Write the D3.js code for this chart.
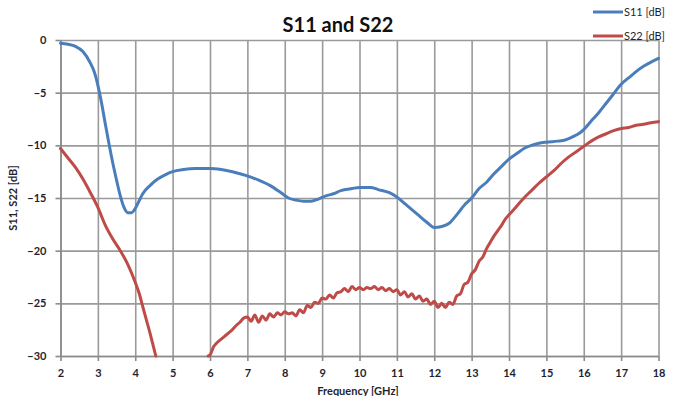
<!DOCTYPE html>
<html>
<head>
<meta charset="utf-8">
<script src="https://cdn.jsdelivr.net/npm/d3@7"></script>
<style>
  html, body { margin: 0; padding: 0; background: #fff; }
  svg { display: block; font-family: Lato, "Open Sans", sans-serif; }
</style>
</head>
<body>
<svg id="chart" width="674" height="396"></svg>
<script>
// ---- data ----
const title = "S11 and S22";
const xLabel = "Frequency [GHz]";
const yLabel = "S11, S22 [dB]";
const seriesNames = ["S11 [dB]", "S22 [dB]"];
const xTicks = [2,3,4,5,6,7,8,9,10,11,12,13,14,15,16,17,18];
const yTicks = [0,-5,-10,-15,-20,-25,-30];

const s11Freq = [2.0,2.2,2.4,2.6,2.8,2.9,3.0,3.1,3.2,3.3,3.4,3.5,3.6,3.7,3.8,3.9,4.0,4.1,4.2,4.4,4.6,4.8,5.0,5.3,5.6,6.0,6.3,6.6,7.0,7.3,7.6,7.9,8.1,8.3,8.5,8.7,8.9,9.1,9.3,9.5,9.8,10.0,10.3,10.5,10.8,11.0,11.2,11.4,11.6,11.8,12.0,12.2,12.4,12.6,12.8,13.0,13.2,13.4,13.6,13.8,14.0,14.2,14.4,14.6,14.8,15.0,15.3,15.5,15.7,15.9,16.0,16.2,16.4,16.6,16.8,17.0,17.2,17.4,17.6,17.8,18.0];
const s11Vals = [-0.3,-0.4,-0.6,-1.1,-2.2,-3.0,-4.3,-6.0,-8.0,-9.9,-11.7,-13.3,-14.8,-15.9,-16.4,-16.4,-16.0,-15.3,-14.6,-13.8,-13.2,-12.8,-12.5,-12.3,-12.2,-12.2,-12.3,-12.5,-12.9,-13.3,-13.8,-14.5,-15.0,-15.2,-15.3,-15.3,-15.1,-14.8,-14.6,-14.3,-14.1,-14.0,-14.0,-14.2,-14.5,-14.9,-15.5,-16.1,-16.7,-17.3,-17.8,-17.7,-17.4,-16.6,-15.7,-15.0,-14.1,-13.5,-12.7,-12.0,-11.3,-10.8,-10.3,-10.0,-9.8,-9.7,-9.6,-9.5,-9.2,-8.8,-8.5,-7.7,-6.9,-6.0,-5.1,-4.2,-3.6,-3.0,-2.5,-2.1,-1.75];

const s22Freq = [2.0,2.2,2.4,2.6,2.8,3.0,3.2,3.4,3.6,3.8,4.0,4.1,4.2,4.3,4.4,4.5,4.55,5.2,5.95,6.0,6.1,6.2,6.3,6.4,6.5,6.6,6.7,6.8,6.9,7.0,7.1,7.2,7.3,7.4,7.5,7.6,7.7,7.8,7.9,8.0,8.1,8.2,8.3,8.4,8.5,8.6,8.7,8.8,8.9,9.0,9.1,9.2,9.3,9.4,9.5,9.6,9.7,9.8,9.9,10.0,10.1,10.2,10.3,10.4,10.5,10.6,10.7,10.8,10.9,11.0,11.1,11.2,11.3,11.4,11.5,11.6,11.7,11.8,11.9,12.0,12.1,12.2,12.3,12.4,12.5,12.6,12.7,12.8,12.9,13.0,13.1,13.2,13.3,13.4,13.5,13.6,13.7,13.8,13.9,14.0,14.2,14.4,14.6,14.8,15.0,15.2,15.4,15.6,15.8,16.0,16.2,16.4,16.6,16.8,17.0,17.2,17.4,17.6,17.8,18.0];
const s22Vals = [-10.3,-11.2,-12.1,-13.2,-14.5,-15.9,-17.6,-18.9,-20.0,-21.3,-23.0,-24.0,-25.3,-26.6,-27.9,-29.3,-30.0,null,-30.0,-29.9,-29.1,-28.7,-28.4,-28.1,-27.8,-27.5,-27.1,-26.8,-26.4,-26.3,-26.7,-26.1,-26.8,-26.2,-26.6,-26.0,-26.3,-25.9,-26.1,-25.8,-26.0,-25.9,-26.2,-25.6,-25.9,-25.2,-25.4,-24.9,-25.0,-24.5,-24.6,-24.2,-24.5,-24.0,-23.9,-23.6,-23.9,-23.4,-23.7,-23.5,-23.7,-23.5,-23.6,-23.4,-23.7,-23.5,-23.8,-23.6,-23.9,-23.7,-24.2,-23.9,-24.4,-24.1,-24.6,-24.3,-24.8,-24.6,-25.1,-24.8,-25.4,-25.0,-25.4,-24.9,-25.1,-24.3,-24.1,-23.2,-23.0,-22.2,-21.8,-21.0,-20.6,-19.8,-19.2,-18.6,-18.1,-17.6,-17.0,-16.6,-15.8,-15.0,-14.3,-13.6,-13.0,-12.4,-11.7,-11.1,-10.6,-10.1,-9.6,-9.2,-8.9,-8.6,-8.4,-8.3,-8.1,-8.0,-7.85,-7.75];

const colors = ["#4A7EBB", "#BE4B48"];

// ---- layout ----
const svg = d3.select("#chart");
const m = {left: 60.5, right: 674 - 658.5, top: 40, bottom: 396 - 356};
const W = 674, H = 396;
const x = d3.scaleLinear().domain([2, 18]).range([m.left, W - m.right]);
const y = d3.scaleLinear().domain([-30, 0]).range([H - m.bottom, m.top]);

// grid
const gridX = svg.append("g").attr("transform", `translate(0,${m.top})`)
  .call(d3.axisBottom(x).tickValues(xTicks).tickSize(H - m.bottom - m.top).tickFormat(""));
gridX.select(".domain").remove();
gridX.selectAll("line").attr("stroke", "#9a9a9a").attr("stroke-width", 1.6);

const gridY = svg.append("g").attr("transform", `translate(${m.left},0)`)
  .call(d3.axisRight(y).tickValues(yTicks).tickSize(W - m.right - m.left).tickFormat(""));
gridY.select(".domain").remove();
gridY.selectAll("line").attr("stroke", "#9a9a9a").attr("stroke-width", 1.6);

// axes
const xAxis = svg.append("g").attr("transform", `translate(0,${y(-30)})`)
  .call(d3.axisBottom(x).tickValues(xTicks).tickSize(5).tickSizeOuter(0).tickPadding(8));
const yAxis = svg.append("g").attr("transform", `translate(${m.left},0)`)
  .call(d3.axisLeft(y).tickValues(yTicks).tickSize(5).tickSizeOuter(0).tickPadding(9));
[xAxis, yAxis].forEach(a => {
  a.select(".domain").attr("stroke", "#8a8a8a").attr("stroke-width", 1.6);
  a.selectAll(".tick line").attr("stroke", "#8a8a8a").attr("stroke-width", 1.6);
  a.selectAll("text").attr("font-family", "Lato, sans-serif").attr("font-size", 11)
    .attr("font-weight", "bold").attr("fill", "#1f1f2f");
});

// lines
const line = d3.line()
  .defined(d => d[1] !== null)
  .curve(d3.curveMonotoneX)
  .x(d => x(d[0])).y(d => y(d[1]));

const series = [
  s11Freq.map((f, i) => [f, s11Vals[i]]),
  s22Freq.map((f, i) => [f, s22Vals[i]])
];
series.forEach((s, i) => {
  svg.append("path").datum(s)
    .attr("fill", "none").attr("stroke", colors[i]).attr("stroke-width", 3)
    .attr("stroke-linejoin", "round").attr("stroke-linecap", "round")
    .attr("d", line);
});

// title
svg.append("text").attr("x", 338).attr("y", 32).attr("text-anchor", "middle")
  .attr("font-size", 20).attr("font-weight", "bold").attr("fill", "#111").text(title);

// axis titles
svg.append("text").attr("x", 358).attr("y", 395).attr("text-anchor", "middle")
  .attr("font-size", 11).attr("font-weight", "bold").attr("fill", "#1f1f2f").text(xLabel);
svg.append("text").attr("transform", `translate(17,198) rotate(-90)`).attr("text-anchor", "middle")
  .attr("font-size", 11).attr("font-weight", "bold").attr("fill", "#1f1f2f").text(yLabel);

// legend
const legendY = [12, 36];
seriesNames.forEach((n, i) => {
  svg.append("line").attr("x1", 593).attr("x2", 623).attr("y1", legendY[i]).attr("y2", legendY[i])
    .attr("stroke", colors[i]).attr("stroke-width", 3);
  svg.append("text").attr("x", 624).attr("y", legendY[i] + 4).attr("font-size", 11)
    .attr("fill", "#1f1f2f").text(n);
});
</script>
</body>
</html>
